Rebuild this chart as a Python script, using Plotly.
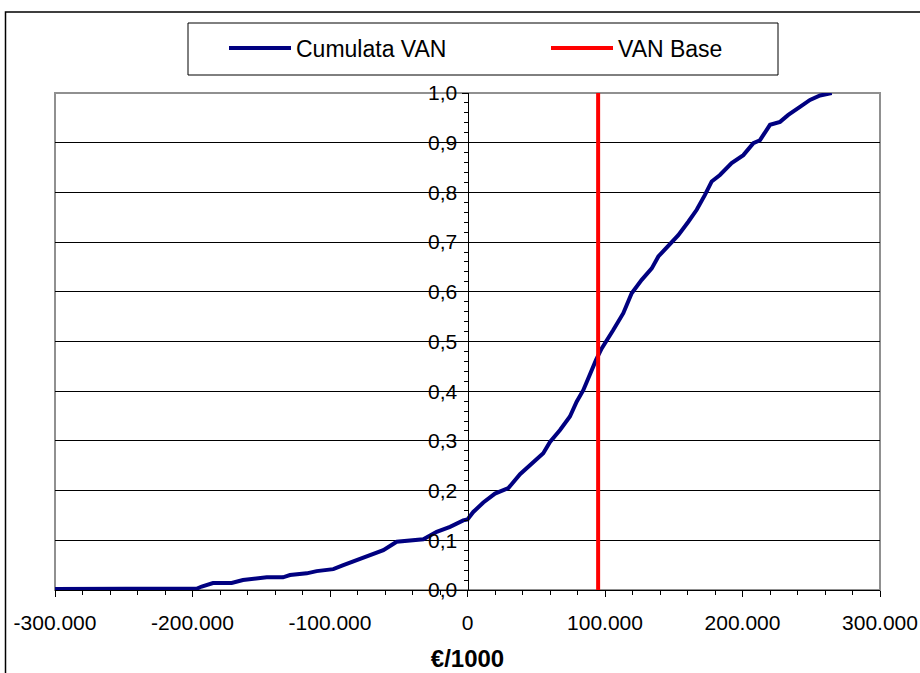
import plotly.graph_objects as go

# ---- data ----
van_x = [-300000, -250000, -196700, -193300, -185100, -171500, -163300, -146000, -134200,
         -129100, -116900, -109700, -97600, -90300, -80600, -70900, -61200, -51500, -41800,
         -32100, -22400, -12700, -3100, 0, 4200, 11500, 20000, 29700, 38200, 46700, 55100,
         60000, 67300, 74500, 79400, 84200, 89100, 93500, 97600, 103600, 106000, 113300,
         119400, 126700, 134000, 138800, 146000, 153300, 160600, 166700, 172700, 177600,
         183600, 192100, 200600, 207900, 212700, 220000, 227300, 233300, 241800, 249100,
         256400, 264900]
van_cum = [0.002, 0.002, 0.003, 0.007, 0.014, 0.014, 0.020, 0.0255, 0.0255,
           0.030, 0.0335, 0.038, 0.042, 0.050, 0.060, 0.072, 0.080, 0.097, 0.099,
           0.102, 0.117, 0.127, 0.140, 0.142, 0.157, 0.176, 0.194, 0.205, 0.233, 0.254, 0.275,
           0.298, 0.322, 0.349, 0.379, 0.402, 0.436, 0.463, 0.486, 0.510, 0.523, 0.557,
           0.597, 0.624, 0.647, 0.671, 0.691, 0.714, 0.741, 0.765, 0.795, 0.822,
           0.835, 0.859, 0.875, 0.899, 0.905, 0.936, 0.942, 0.956, 0.972, 0.986,
           0.995, 1.000]
van_base = 95000
van_base_y = [0.0, 1.0]

x_tick_vals = [-300000, -200000, -100000, 0, 100000, 200000, 300000]
x_tick_labels = ["-300.000", "-200.000", "-100.000", "0", "100.000", "200.000", "300.000"]
y_tick_vals = [0.0, 0.1, 0.2, 0.3, 0.4, 0.5, 0.6, 0.7, 0.8, 0.9, 1.0]
y_tick_labels = ["0,0", "0,1", "0,2", "0,3", "0,4", "0,5", "0,6", "0,7", "0,8", "0,9", "1,0"]

FONT = "Liberation Sans, Arial, sans-serif"

fig = go.Figure()
fig.add_trace(go.Scatter(x=van_x, y=van_cum, mode="lines", name="Cumulata VAN",
                         line=dict(color="#000080", width=4)))
fig.add_trace(go.Scatter(x=[van_base, van_base], y=van_base_y, mode="lines", name="VAN Base",
                         line=dict(color="#FF0000", width=4)))

W, H = 920, 673
ml, mr, mt, mb = 55, 40, 93, 83
pw, ph = W - ml - mr, H - mt - mb


def px(xp):
    return (xp - ml) / pw


def py(yp):
    return (H - mb - yp) / ph


fig.update_layout(
    width=W, height=H,
    margin=dict(l=ml, r=mr, t=mt, b=mb, pad=0, autoexpand=False),
    paper_bgcolor="white", plot_bgcolor="white",
    font=dict(family=FONT, size=21, color="black"),
    showlegend=True,
    legend=dict(orientation="h", x=px(224), y=py(48), xanchor="left", yanchor="middle",
                bgcolor="rgba(0,0,0,0)", borderwidth=0, entrywidth=245,
                entrywidthmode="pixels", font=dict(size=23), itemwidth=62),
    xaxis=dict(range=[-300000, 300000], tickmode="array", tickvals=x_tick_vals,
               ticktext=x_tick_labels, showgrid=False, zeroline=False,
               showline=True, linecolor="black", linewidth=1,
               ticks="outside", ticklen=6, tickcolor="black", tickwidth=1,
               ticklabelstandoff=8,
               minor=dict(tickmode="linear", tick0=-300000, dtick=20000, ticks="outside",
                          ticklen=4, tickcolor="black", showgrid=False),
               title=dict(text="<b>€/1000</b>", font=dict(size=24), standoff=16),
               fixedrange=True),
    yaxis=dict(range=[0, 1], tickmode="array", tickvals=y_tick_vals, ticktext=y_tick_labels,
               anchor="free", position=0.5, side="left",
               showgrid=True, gridcolor="black", gridwidth=1, zeroline=False,
               showline=True, linecolor="black", linewidth=1,
               ticks="outside", ticklen=6, tickcolor="black", tickwidth=1,
               minor=dict(tickmode="linear", tick0=0, dtick=0.02, ticks="outside",
                          ticklen=4, tickcolor="black", showgrid=False),
               fixedrange=True),
    shapes=[
        # plot area border
        dict(type="rect", xref="paper", yref="paper", x0=0, x1=1, y0=0, y1=1,
             line=dict(color="#909090", width=2), layer="below"),
        # legend box
        dict(type="rect", xref="paper", yref="paper", x0=px(188), x1=px(778),
             y0=py(75), y1=py(23), line=dict(color="black", width=1), layer="above"),
        # outer chart border
        dict(type="rect", xref="paper", yref="paper", x0=px(5.5), x1=px(1000),
             y0=py(800), y1=py(12), line=dict(color="black", width=1.5), layer="above"),
    ],
)

fig.write_html("out.html", config={"displayModeBar": False},
               post_script="document.body.style.margin='0px';document.body.style.overflow='hidden';")
